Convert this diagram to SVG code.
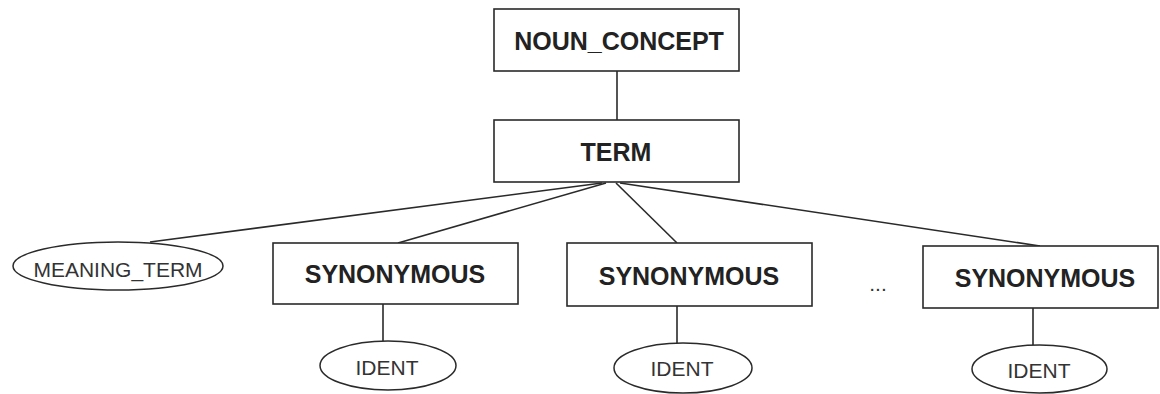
<svg xmlns="http://www.w3.org/2000/svg" width="1160" height="394" viewBox="0 0 1160 394">
  <style>
    .box { fill: #ffffff; stroke: #2a2a2a; stroke-width: 1.6; }
    .attr { fill: #ffffff; stroke: #2a2a2a; stroke-width: 1.5; }
    .edge { stroke: #2a2a2a; stroke-width: 1.6; fill: none; }
    .lbl { font-family: "Liberation Sans", Arial, Helvetica, sans-serif; font-weight: bold; font-size: 25px; fill: #222222; text-anchor: middle; }
    .albl { font-family: "Liberation Sans", Arial, Helvetica, sans-serif; font-size: 21px; fill: #333333; text-anchor: middle; }
  </style>
  <rect width="1160" height="394" fill="#ffffff"/>

  <!-- connectors -->
  <g id="connectors">
    <line class="edge" x1="617" y1="71" x2="617" y2="120"/>
    <line class="edge" x1="602" y1="183" x2="150" y2="242"/>
    <line class="edge" x1="606" y1="183" x2="398" y2="243"/>
    <line class="edge" x1="616" y1="183" x2="677" y2="243"/>
    <line class="edge" x1="620" y1="183" x2="1040" y2="246"/>
    <line class="edge" x1="383" y1="304" x2="383" y2="341"/>
    <line class="edge" x1="677" y1="306" x2="677" y2="343"/>
    <line class="edge" x1="1033" y1="308" x2="1033" y2="345"/>
  </g>

  <g id="noun_concept">
    <rect class="box" x="494" y="9" width="245" height="62"/>
    <text class="lbl" x="619" y="50">NOUN_CONCEPT</text>
  </g>

  <g id="term">
    <rect class="box" x="494" y="120" width="245" height="62"/>
    <text class="lbl" x="616" y="161">TERM</text>
  </g>

  <g id="meaning_term">
    <ellipse class="attr" cx="118" cy="266" rx="105" ry="24"/>
    <text class="albl" x="118" y="277">MEANING_TERM</text>
  </g>

  <g id="synonymous_1">
    <rect class="box" x="273" y="243" width="245" height="61"/>
    <text class="lbl" x="395" y="283">SYNONYMOUS</text>
  </g>

  <g id="synonymous_2">
    <rect class="box" x="567" y="243" width="245" height="63"/>
    <text class="lbl" x="689" y="285">SYNONYMOUS</text>
  </g>

  <g id="ellipsis">
    <text class="albl" x="878" y="291">...</text>
  </g>

  <g id="synonymous_3">
    <rect class="box" x="923" y="246" width="235" height="62"/>
    <text class="lbl" x="1045" y="287">SYNONYMOUS</text>
  </g>

  <g id="ident_1">
    <ellipse class="attr" cx="388" cy="365.5" rx="68" ry="24.5"/>
    <text class="albl" x="387" y="375">IDENT</text>
  </g>

  <g id="ident_2">
    <ellipse class="attr" cx="683" cy="368" rx="69" ry="25"/>
    <text class="albl" x="682" y="376">IDENT</text>
  </g>

  <g id="ident_3">
    <ellipse class="attr" cx="1039.5" cy="369" rx="67.5" ry="24"/>
    <text class="albl" x="1039" y="378">IDENT</text>
  </g>
</svg>
